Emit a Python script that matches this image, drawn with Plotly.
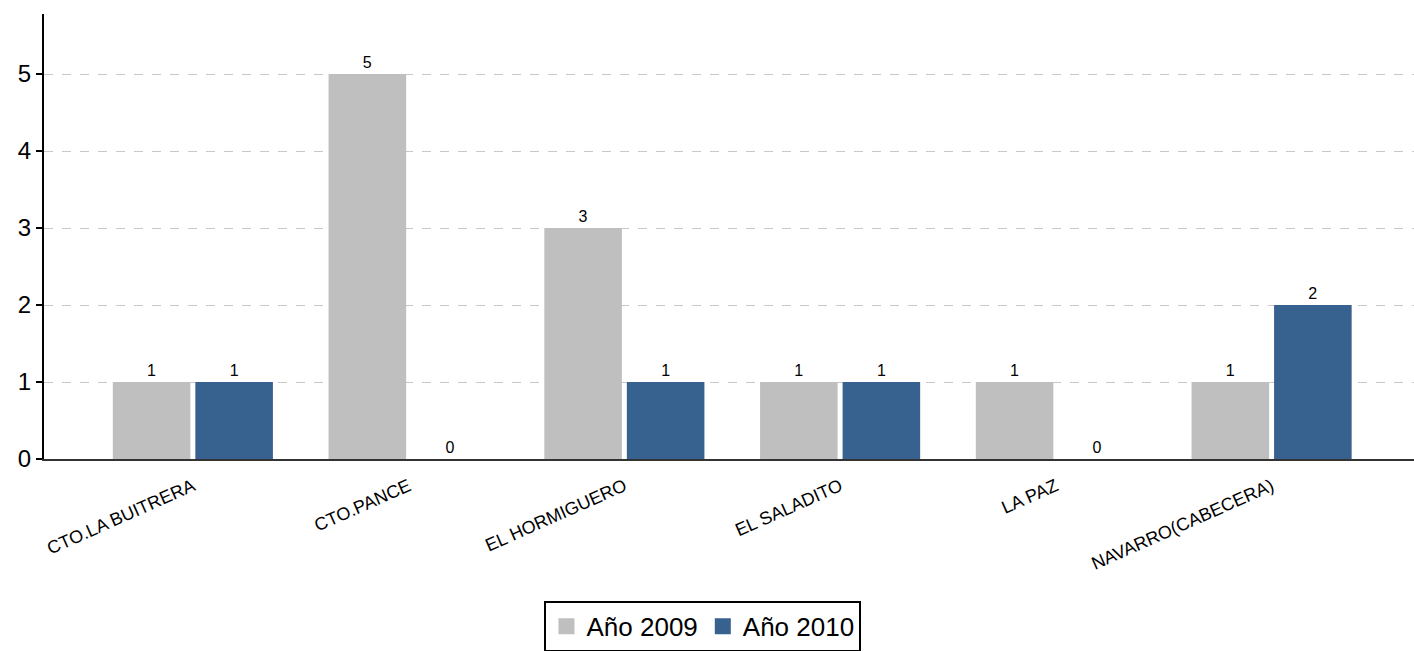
import plotly.graph_objects as go

categories = ["CTO.LA BUITRERA", "CTO.PANCE", "EL HORMIGUERO", "EL SALADITO", "LA PAZ", "NAVARRO(CABECERA)"]
y2009 = [1, 5, 3, 1, 1, 1]
y2010 = [1, 0, 1, 1, 0, 2]
x = list(range(len(categories)))

c2009 = "#bfbfbf"
c2010 = "#37618f"

fig = go.Figure()
fig.add_trace(go.Bar(x=x, y=y2009, name="Año 2009", marker=dict(color=c2009, line=dict(width=0)),
                     text=y2009, textposition="outside", cliponaxis=False, showlegend=False,
                     textfont=dict(size=16, color="#000")))
fig.add_trace(go.Bar(x=x, y=y2010, name="Año 2010", marker=dict(color=c2010, line=dict(width=0)),
                     text=y2010, textposition="outside", cliponaxis=False, showlegend=False,
                     textfont=dict(size=16, color="#000")))
# legend proxies with larger square swatches
fig.add_trace(go.Scatter(x=[None], y=[None], mode="markers", name="Año 2009",
                         marker=dict(symbol="square", size=16, color=c2009)))
fig.add_trace(go.Scatter(x=[None], y=[None], mode="markers", name="Año 2010",
                         marker=dict(symbol="square", size=16, color=c2010)))

fig.update_layout(
    width=1414, height=651,
    margin=dict(l=44, r=0, t=14, b=192, autoexpand=False),
    paper_bgcolor="white", plot_bgcolor="white",
    font=dict(family="Liberation Sans, Arial, sans-serif", color="#000"),
    barmode="group", bargap=0.235, bargroupgap=0.06,
    showlegend=True,
    legend=dict(orientation="h", x=0.481, xanchor="center", y=-0.319, yanchor="top",
                bordercolor="#000", borderwidth=2, font=dict(size=26),
                itemsizing="trace", tracegroupgap=0),
    xaxis=dict(tickmode="array", tickvals=x, ticktext=categories, range=[-0.69, 5.66],
               tickangle=-24, tickfont=dict(size=18), showgrid=False, ticks="",
               ticklabelstandoff=8,
               showline=True, linecolor="#333", linewidth=2, zeroline=False, automargin=False),
    yaxis=dict(range=[0, 5.78], tickvals=[0, 1, 2, 3, 4, 5], tickfont=dict(size=24),
               showgrid=True, gridcolor="#c8c8c8", griddash="dash", gridwidth=1,
               showline=True, linecolor="#000", linewidth=2, ticks="outside", ticklen=6,
               tickwidth=2, tickcolor="#000", zeroline=False, automargin=False),
)
fig.write_html("out.html", config={"displayModeBar": False},
               post_script="document.body.style.margin='0';")
